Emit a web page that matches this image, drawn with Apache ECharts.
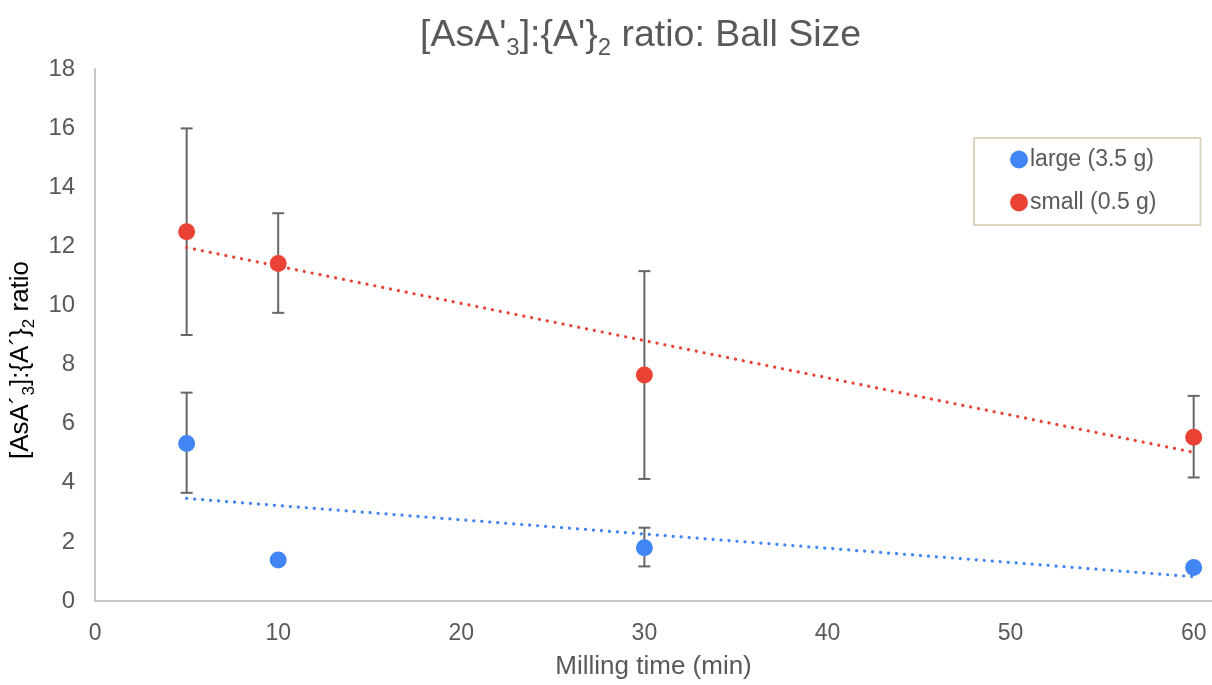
<!DOCTYPE html>
<html>
<head>
<meta charset="utf-8">
<script src="https://cdn.jsdelivr.net/npm/echarts@6/dist/echarts.min.js"></script>
<style>
html,body{margin:0;padding:0;background:#fff;}
#chart{width:1212px;height:685px;}
</style>
</head>
<body>
<div id="chart"></div>
<script>
// ---- data ----
const xValues = [5, 10, 30, 60];
const largeValues = [5.33, 1.39, 1.80, 1.13];
const largeErrLow = [3.66, null, 1.17, null];
const largeErrHigh = [7.05, null, 2.48, null];
const smallValues = [12.49, 11.42, 7.65, 5.54];
const smallErrLow = [9.0, 9.75, 4.13, 4.18];
const smallErrHigh = [15.99, 13.12, 11.16, 6.94];
const trendX = [5, 60];
const largeTrend = [3.47, 0.82];
const smallTrend = [11.96, 5.03];
const xTicks = [0, 10, 20, 30, 40, 50, 60];
const yTicks = [0, 2, 4, 6, 8, 10, 12, 14, 16, 18];
const seriesNames = ['large (3.5 g)', 'small (0.5 g)'];

const BLUE = '#4285F4', RED = '#EA4335', GREY = '#595959';
const FONT = '"Liberation Sans", Arial, sans-serif';

function pairs(xs, ys) { return xs.map((x, i) => [x, ys[i]]); }
function errData(xs, lo, hi) {
  const out = [];
  xs.forEach((x, i) => { if (lo[i] != null && hi[i] != null) out.push([x, lo[i], hi[i]]); });
  return out;
}
function errRender(params, api) {
  const x = api.value(0);
  const lo = api.coord([x, api.value(1)]);
  const hi = api.coord([x, api.value(2)]);
  const w = 6;
  const st = { stroke: '#666666', lineWidth: 2 };
  return {
    type: 'group',
    children: [
      { type: 'line', shape: { x1: lo[0], y1: lo[1], x2: hi[0], y2: hi[1] }, style: st },
      { type: 'line', shape: { x1: lo[0] - w, y1: lo[1], x2: lo[0] + w, y2: lo[1] }, style: st },
      { type: 'line', shape: { x1: hi[0] - w, y1: hi[1], x2: hi[0] + w, y2: hi[1] }, style: st }
    ]
  };
}
function trend(name, ys, color) {
  return {
    name: name + ' trend', type: 'line', data: pairs(trendX, ys), symbol: 'none', silent: true, z: 3,
    lineStyle: { color: color, width: 3.2, type: [0.1, 7.9], cap: 'round' }
  };
}

const chart = echarts.init(document.getElementById('chart'), null, { renderer: 'canvas' });
chart.setOption({
  animation: false,
  backgroundColor: '#ffffff',
  textStyle: { fontFamily: FONT },
  title: {
    text: "[AsA'{sub|3}]:{A'}{sub|2} ratio: Ball Size",
    left: 415, top: 6,
    textStyle: {
      fontFamily: FONT, fontSize: 37.5, fontWeight: 'normal', color: GREY,
      rich: { sub: { fontFamily: FONT, fontSize: 24, color: GREY, padding: [25, 0, 0, 0] } }
    }
  },
  grid: { left: 93, right: 0, top: 69, bottom: 84, containLabel: false },
  legend: {
    data: seriesNames.map(n => ({ name: n, icon: 'circle' })),
    orient: 'vertical', left: 974, top: 138,
    itemWidth: 18, itemHeight: 18, itemGap: 20,
    padding: [10, 44, 11, 36],
    borderColor: '#ddd5bd', borderWidth: 2,
    textStyle: { fontFamily: FONT, fontSize: 23, color: GREY, padding: [0, 0, 0, -3] }
  },
  xAxis: {
    type: 'value', min: 0, max: 61, interval: 10,
    name: 'Milling time (min)', nameLocation: 'middle', nameGap: 53,
    nameTextStyle: { fontFamily: FONT, fontSize: 26, color: GREY },
    axisLine: { show: true, lineStyle: { color: '#c6c6c6', width: 2 } },
    axisTick: { show: false },
    splitLine: { show: false },
    axisLabel: {
      fontFamily: FONT, fontSize: 23, color: GREY, margin: 21, showMaxLabel: false,
      formatter: v => (xTicks.indexOf(v) >= 0 ? String(v) : '')
    }
  },
  yAxis: {
    type: 'value', min: 0, max: 18, interval: 2,
    name: "[AsA\u00b4{sub|3}]:{A\u00b4}{sub|2} ratio", nameLocation: 'middle', nameGap: 53, nameRotate: 90,
    nameTextStyle: {
      fontFamily: FONT, fontSize: 26, color: '#000000', padding: [0, 50, 0, 0],
      rich: { sub: { fontFamily: FONT, fontSize: 17, color: '#000000', padding: [16, 0, 0, 0] } }
    },
    axisLine: { show: true, lineStyle: { color: '#c6c6c6', width: 2 } },
    axisTick: { show: false },
    splitLine: { show: false },
    axisLabel: {
      fontFamily: FONT, fontSize: 24, color: GREY, margin: 20,
      formatter: v => (yTicks.indexOf(v) >= 0 ? String(v) : '')
    }
  },
  series: [
    { name: 'large err', type: 'custom', renderItem: errRender, data: errData(xValues, largeErrLow, largeErrHigh), z: 2, silent: true },
    { name: 'small err', type: 'custom', renderItem: errRender, data: errData(xValues, smallErrLow, smallErrHigh), z: 2, silent: true },
    trend(seriesNames[0], largeTrend, BLUE),
    trend(seriesNames[1], smallTrend, RED),
    { name: seriesNames[0], type: 'scatter', data: pairs(xValues, largeValues), symbolSize: 17, z: 5, itemStyle: { color: BLUE, opacity: 1 } },
    { name: seriesNames[1], type: 'scatter', data: pairs(xValues, smallValues), symbolSize: 17, z: 5, itemStyle: { color: RED, opacity: 1 } }
  ]
});
</script>
</body>
</html>
